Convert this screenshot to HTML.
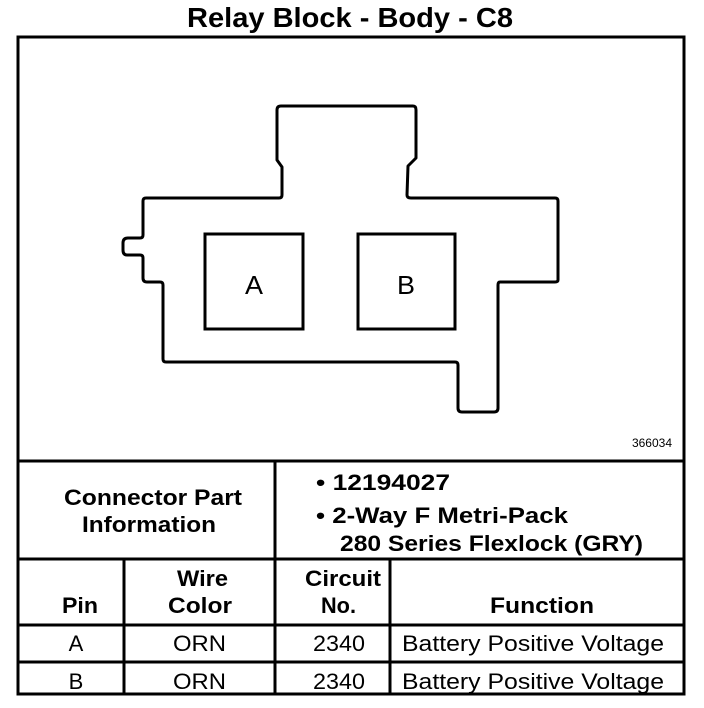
<!DOCTYPE html>
<html><head><style>
body{margin:0;width:704px;height:708px;background:#fff;overflow:hidden;font-family:"Liberation Sans",Arial,sans-serif}
svg{position:absolute;left:0;top:0}
</style></head><body>
<svg width="704" height="708" viewBox="0 0 704 708">
<text x="187" y="27" textLength="326" lengthAdjust="spacingAndGlyphs" font-family="Liberation Sans" font-weight="bold" font-size="28">Relay Block - Body - C8</text>
<g fill="none" stroke="#000" stroke-width="3">
<rect x="18" y="37" width="666" height="657"/>
<line x1="18" y1="461" x2="684" y2="461"/>
<line x1="18" y1="559" x2="684" y2="559"/>
<line x1="18" y1="625" x2="684" y2="625"/>
<line x1="18" y1="662" x2="684" y2="662"/>
<line x1="275" y1="461" x2="275" y2="559"/>
<line x1="124" y1="559" x2="124" y2="694"/>
<line x1="275" y1="559" x2="275" y2="694"/>
<line x1="390" y1="559" x2="390" y2="694"/>
<path stroke-linejoin="round" d="M281,106 L413,106 Q416,106 416,110 L416,158 L408,166 L407,195 Q407,198 411,198 L555,198 Q558,198 558,201 L558,280 Q558,282 555,282 L500,282 Q498,282 498,285 L498,408 Q498,412 494,412 L462,412 Q458,412 458,408 L458,365 Q458,362 455,362 L166,362 Q163,362 163,359 L163,285 Q163,282 160,282 L147,282 Q143,282 143,278 L143,258 Q143,255 140,255 L127,255 Q123,255 123,250 L123,243 Q123,238 128,238 L140,238 Q143,238 143,235 L143,201 Q143,198 146,198 L279,198 Q282,198 282,195 L282,167 L277,160 L277,110 Q277,106 281,106 Z"/>
<rect x="205" y="234" width="98" height="95"/>
<rect x="358" y="234" width="97" height="95"/>
</g>
<text x="245" y="294" textLength="18" lengthAdjust="spacingAndGlyphs" font-size="26">A</text>
<text x="397" y="294" textLength="18" lengthAdjust="spacingAndGlyphs" font-size="26">B</text>
<text x="672" y="447" text-anchor="end" font-size="12">366034</text>
<g font-weight="bold" font-size="22">
<text x="64" y="505" textLength="178" lengthAdjust="spacingAndGlyphs">Connector Part</text>
<text x="82" y="532" textLength="134" lengthAdjust="spacingAndGlyphs">Information</text>
<text x="316" y="490" textLength="134" lengthAdjust="spacingAndGlyphs">• 12194027</text>
<text x="316" y="523" textLength="252" lengthAdjust="spacingAndGlyphs">• 2-Way F Metri-Pack</text>
<text x="340" y="551" textLength="303" lengthAdjust="spacingAndGlyphs">280 Series Flexlock (GRY)</text>
<text x="62" y="613" textLength="36" lengthAdjust="spacingAndGlyphs">Pin</text>
<text x="177" y="586" textLength="51" lengthAdjust="spacingAndGlyphs">Wire</text>
<text x="168" y="613" textLength="64" lengthAdjust="spacingAndGlyphs">Color</text>
<text x="305" y="586" textLength="76" lengthAdjust="spacingAndGlyphs">Circuit</text>
<text x="321" y="613" textLength="35" lengthAdjust="spacingAndGlyphs">No.</text>
<text x="490" y="613" textLength="104" lengthAdjust="spacingAndGlyphs">Function</text>
</g>
<g font-size="22">
<text x="76" y="651" text-anchor="middle">A</text>
<text x="173" y="651" textLength="53" lengthAdjust="spacingAndGlyphs">ORN</text>
<text x="313" y="651" textLength="52" lengthAdjust="spacingAndGlyphs">2340</text>
<text x="402" y="651" textLength="262" lengthAdjust="spacingAndGlyphs">Battery Positive Voltage</text>
<text x="76" y="689" text-anchor="middle">B</text>
<text x="173" y="689" textLength="53" lengthAdjust="spacingAndGlyphs">ORN</text>
<text x="313" y="689" textLength="52" lengthAdjust="spacingAndGlyphs">2340</text>
<text x="402" y="689" textLength="262" lengthAdjust="spacingAndGlyphs">Battery Positive Voltage</text>
</g>
</svg>
</body></html>
